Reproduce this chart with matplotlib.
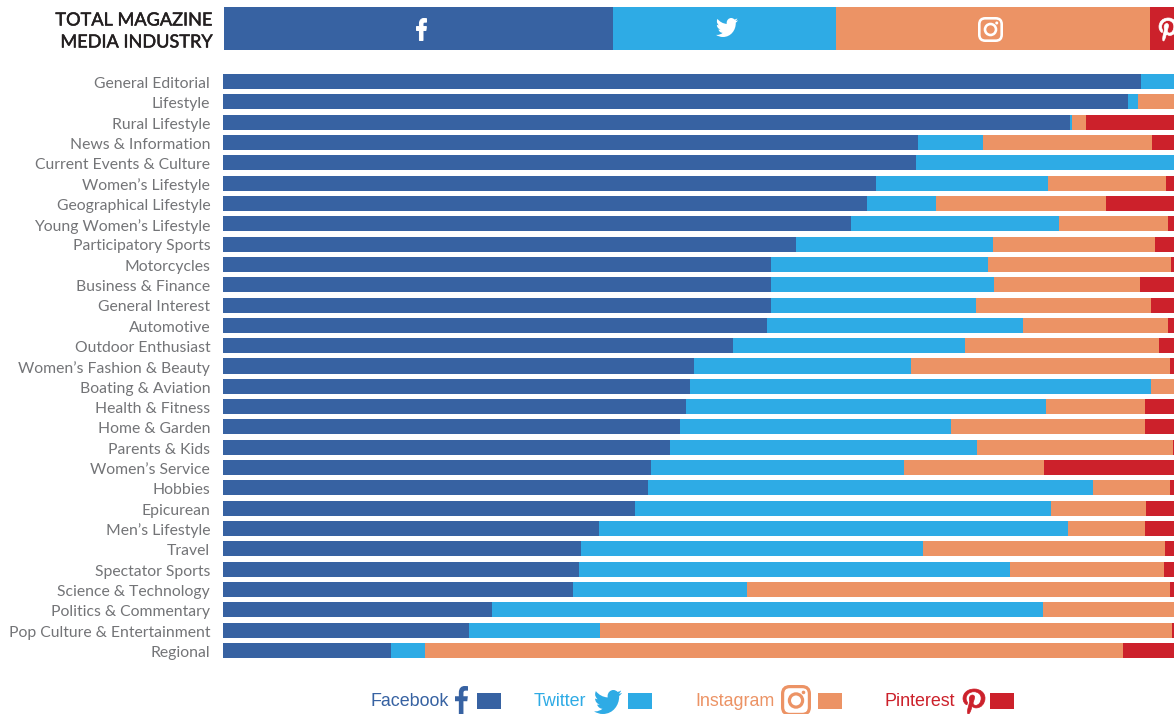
import re
import matplotlib
matplotlib.use("Agg")
import matplotlib.pyplot as plt
import matplotlib.patheffects as pe
from matplotlib.path import Path
from matplotlib.patches import PathPatch, Rectangle, FancyBboxPatch, Circle
from matplotlib.transforms import Affine2D

categories = ["General Editorial", "Lifestyle", "Rural Lifestyle", "News & Information",
              "Current Events & Culture", "Women’s Lifestyle", "Geographical Lifestyle",
              "Young Women’s Lifestyle", "Participatory Sports", "Motorcycles",
              "Business & Finance", "General Interest", "Automotive", "Outdoor Enthusiast",
              "Women’s Fashion & Beauty", "Boating & Aviation", "Health & Fitness",
              "Home & Garden", "Parents & Kids", "Women’s Service", "Hobbies", "Epicurean",
              "Men’s Lifestyle", "Travel", "Spectator Sports", "Science & Technology",
              "Politics & Commentary", "Pop Culture & Entertainment", "Regional"]
facebook = [96.5, 95.2, 89.1, 73.1, 72.9, 68.7, 67.7, 66.0, 60.3, 57.6, 57.6, 57.6, 57.2, 53.6, 49.5,
            49.1, 48.7, 48.1, 47.0, 45.0, 44.7, 43.3, 39.5, 37.6, 37.4, 36.8, 28.3, 25.9, 17.7]
twitter = [3.5, 1.0, 0.2, 6.8, 27.1, 18.1, 7.3, 21.9, 20.7, 22.8, 23.5, 21.6, 26.9, 24.4, 22.8,
           48.5, 37.8, 28.5, 32.3, 26.6, 46.8, 43.8, 49.4, 36.0, 45.4, 18.3, 57.9, 13.7, 3.5]
instagram = [0, 3.8, 1.4, 17.8, 0, 12.4, 17.9, 11.5, 17.0, 19.3, 15.3, 18.4, 15.3, 20.4, 27.3,
             2.4, 10.5, 20.4, 20.6, 14.7, 8.1, 10.0, 8.1, 25.5, 16.2, 44.5, 13.8, 60.2, 73.4]
pinterest = [0, 0, 9.3, 2.3, 0, 0.8, 7.2, 0.6, 2.0, 0.3, 3.6, 2.4, 0.6, 1.6, 0.4,
             0, 3.0, 3.0, 0.1, 13.7, 0.4, 2.9, 3.0, 0.9, 1.0, 0.4, 0, 0.2, 5.4]
total_shares = [40.9, 23.5, 33.1, 2.5]
networks = ["Facebook", "Twitter", "Instagram", "Pinterest"]
colors = ["#3762A2", "#2EABE5", "#EC9365", "#CC212B"]
title_lines = ["TOTAL MAGAZINE", "MEDIA INDUSTRY"]

W, H = 1174, 714
plt.rcParams["font.family"] = ["Lato", "DejaVu Sans"]
fig = plt.figure(figsize=(W / 100, H / 100), dpi=100, facecolor="white")


def axes_px(l, t, r, b, **kw):
    return fig.add_axes([l / W, 1 - b / H, (r - l) / W, (b - t) / H], **kw)


# Header stacked bar
hax = axes_px(224, 7, 1174, 50)
left = 0
for share, c in zip(total_shares, colors):
    hax.barh([0], [share], left=left, height=1, color=c, linewidth=0)
    left += share
hax.set_xlim(0, 100)
hax.set_ylim(-0.5, 0.5)
hax.axis("off")

# Main stacked bars
ax = axes_px(223, 74 - 2.66, 1174, 658 + 2.66)
y = list(range(len(categories)))
left = [0.0] * len(categories)
for series, c in zip([facebook, twitter, instagram, pinterest], colors):
    ax.barh(y, series, left=left, height=15 / 20.32, color=c, linewidth=0)
    left = [a + b for a, b in zip(left, series)]
ax.set_xlim(0, 100)
ax.set_ylim(len(categories) - 0.5, -0.5)
ax.set_yticks(y)
ax.set_yticklabels(categories, fontsize=11.3, color="#737477")
ax.tick_params(axis="y", length=0, pad=9.2)
for lab in ax.get_yticklabels():
    lab.set_transform(lab.get_transform() + Affine2D().translate(0, -0.9))
ax.set_xticks([])
for s in ax.spines.values():
    s.set_visible(False)

# Overlay in pixel space for title, icons and legend
ov = fig.add_axes([0, 0, 1, 1], facecolor="none")
ov.set_xlim(0, W)
ov.set_ylim(H, 0)
ov.axis("off")

for line, ty in zip(title_lines, [20.5, 42.5]):
    ov.text(212, ty, line, ha="right", va="center", fontsize=13.05, color="#231F20",
            path_effects=[pe.withStroke(linewidth=0.35, foreground="#231F20")])


def svg_path(d):
    verts, codes = [], []
    cur = (0.0, 0.0)
    start = cur
    last_ctrl = None
    for cmd, args in re.findall(r"([MCcsLlHVvz])([^MCcsLlHVvz]*)", d):
        n = [float(v) for v in re.findall(r"[-+]?\d*\.?\d+", args)]
        if cmd == "M":
            cur = start = (n[0], n[1])
            verts.append(cur)
            codes.append(Path.MOVETO)
        elif cmd in "Cc":
            for i in range(0, len(n), 6):
                o = cur if cmd == "c" else (0, 0)
                p = [(n[i + j] + o[0], n[i + j + 1] + o[1]) for j in (0, 2, 4)]
                verts += p
                codes += [Path.CURVE4] * 3
                last_ctrl = p[1]
                cur = p[2]
        elif cmd == "s":
            for i in range(0, len(n), 4):
                c1 = (2 * cur[0] - last_ctrl[0], 2 * cur[1] - last_ctrl[1])
                c2 = (cur[0] + n[i], cur[1] + n[i + 1])
                e = (cur[0] + n[i + 2], cur[1] + n[i + 3])
                verts += [c1, c2, e]
                codes += [Path.CURVE4] * 3
                last_ctrl = c2
                cur = e
        elif cmd in "Ll":
            o = cur if cmd == "l" else (0, 0)
            cur = (n[0] + o[0], n[1] + o[1])
            verts.append(cur)
            codes.append(Path.LINETO)
        elif cmd == "H":
            cur = (n[0], cur[1])
            verts.append(cur)
            codes.append(Path.LINETO)
        elif cmd in "Vv":
            cur = (cur[0], n[0] + (cur[1] if cmd == "v" else 0))
            verts.append(cur)
            codes.append(Path.LINETO)
        elif cmd == "z":
            verts.append(start)
            codes.append(Path.CLOSEPOLY)
            cur = start
    return Path(verts, codes)


F_ICON = svg_path("M15.12 5.32H17V2.14C16.1 2.05 15.2 2 14.26 2C11.54 2 9.68 3.66 9.68 6.7V9.32H6.61V12.88H9.68V22H13.36V12.88H16.42L16.88 9.32H13.36V7.05C13.36 6 13.64 5.32 15.12 5.32z")
BIRD = svg_path("M23.954 4.569c-.885.389-1.83.654-2.825.775 1.014-.611 1.794-1.574 2.163-2.723-.951.555-2.005.959-3.127 1.184-.896-.959-2.173-1.559-3.591-1.559-2.717 0-4.92 2.203-4.92 4.917 0 .39.045.765.127 1.124C7.691 8.094 4.066 6.13 1.64 3.161c-.427.722-.666 1.561-.666 2.475 0 1.71.87 3.213 2.188 4.096-.807-.026-1.566-.248-2.228-.616v.061c0 2.385 1.693 4.374 3.946 4.827-.413.111-.849.171-1.296.171-.314 0-.615-.03-.916-.086.631 1.953 2.445 3.377 4.604 3.417-1.68 1.319-3.809 2.105-6.102 2.105-.39 0-.779-.023-1.17-.067 2.189 1.394 4.768 2.209 7.557 2.209 9.054 0 13.999-7.496 13.999-13.986 0-.209 0-.42-.015-.63.961-.689 1.8-1.56 2.46-2.548z")
PIN = svg_path("M7.647 23.149c-.105-.949-.199-2.403.041-3.439.219-.937 1.406-5.957 1.406-5.957s-.359-.72-.359-1.781c0-1.663.967-2.911 2.168-2.911 1.024 0 1.518.769 1.518 1.688 0 1.029-.653 2.567-.992 3.992-.285 1.193.6 2.165 1.775 2.165 2.128 0 3.768-2.245 3.768-5.487 0-2.861-2.063-4.869-5.008-4.869-3.41 0-5.409 2.562-5.409 5.199 0 1.033.394 2.143.889 2.741.099.12.112.225.085.345-.09.375-.293 1.199-.334 1.363-.053.225-.172.271-.401.165-1.495-.69-2.433-2.878-2.433-4.646 0-3.776 2.748-7.252 7.92-7.252 4.158 0 7.392 2.967 7.392 6.923 0 4.135-2.607 7.462-6.233 7.462-1.214 0-2.354-.629-2.758-1.379l-.749 2.848c-.269 1.045-1.004 2.352-1.498 3.146z")


def icon(path, x0, y0, x1, y1, color, lw=0):
    bb = path.get_extents()
    t = Affine2D().translate(-bb.x0, -bb.y0).scale((x1 - x0) / bb.width, (y1 - y0) / bb.height).translate(x0, y0)
    ov.add_patch(PathPatch(path.transformed(t), facecolor=color, edgecolor=color if lw else "none", linewidth=lw))


def insta(x0, y0, x1, y1, color, lw):
    w, h = x1 - x0, y1 - y0
    r = w * 0.24
    ov.add_patch(FancyBboxPatch((x0 + lw / 2, y0 + lw / 2), w - lw, h - lw,
                                boxstyle=f"round,pad=0,rounding_size={r}",
                                fill=False, edgecolor=color, linewidth=lw * 0.72))
    cx, cy = (x0 + x1) / 2, (y0 + y1) / 2
    ov.add_patch(Circle((cx, cy), w * 0.22, fill=False, edgecolor=color, linewidth=lw * 0.72))
    ov.add_patch(Circle((x0 + w * 0.75, y0 + h * 0.24), w * 0.06, color=color, linewidth=0))


# Header icons
icon(F_ICON, 416.5, 18.5, 426.5, 40.5, "white", lw=0.7)
icon(BIRD, 716, 18, 738, 37, "white")
insta(978, 17, 1003, 42, "white", 2.6)
icon(PIN, 1159, 18, 1177, 41, "white", lw=0.5)

# Legend
legend_text_x = [370, 534, 695, 885]
legend_box_x = [477, 628, 818, 990]
for name, tx, bx, c in zip(networks, legend_text_x, legend_box_x, colors):
    ov.text(tx, 702, name, ha="left", va="center", fontsize=12.9, color=c,
            family=["Liberation Sans", "DejaVu Sans"])
    ov.add_patch(Rectangle((bx, 693), 24, 16, facecolor=c, linewidth=0))
icon(F_ICON, 455, 686, 468, 714, colors[0])
icon(BIRD, 594, 690, 622, 714, colors[1])
insta(781, 685, 811, 716, colors[2], 3.2)
icon(PIN, 963, 689, 985, 714, colors[3], lw=0.5)

fig.savefig("out.png", dpi=100, facecolor="white")
